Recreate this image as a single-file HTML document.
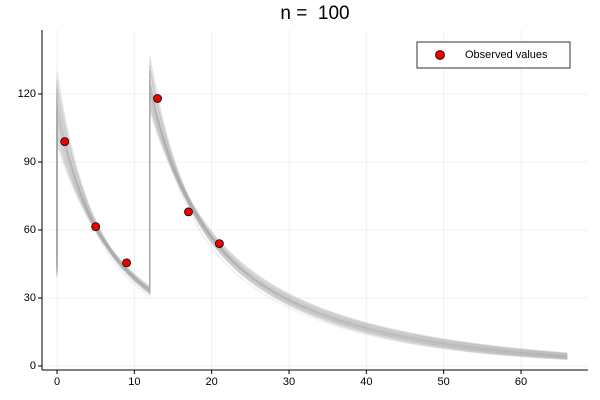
<!DOCTYPE html>
<html><head><meta charset="utf-8"><style>
body{margin:0;background:#fff}
svg{display:block;font-family:"Liberation Sans",sans-serif}
</style></head><body>
<svg id="chart" width="600" height="400" viewBox="0 0 600 400">
<text x="315" y="14" font-size="19" text-anchor="middle" dominant-baseline="middle" style="white-space:pre">n =  100</text>
<g id="grid"></g>
<g id="curves"></g>
<g id="points"></g>
<g id="axes"></g>
<g>
<rect x="417" y="42" width="153" height="26" fill="#fff" stroke="#000" stroke-width="0.8"/>
<circle cx="440" cy="55" r="4.5" fill="#e00" stroke="#000" stroke-width="0.8"/>
<text x="465" y="55" font-size="11" dominant-baseline="middle">Observed values</text>
</g>
</svg>
<script>
const xTicks=[0,10,20,30,40,50,60];
const yTicks=[0,30,60,90,120];
const obsT=[1,5,9,13,17,21];
const obsC=[99,61.5,45.5,118,68,54];
const doses=[112,106,120,100,114,127,109,103,117,111,123,98,115,108,121,105,113,130,102,118,110,101,124,107,116,119,104,112,99,126,108,115,111,122,103];
const kScale=[1.0,0.9,1.1,0.82,1.04,1.2,0.94,0.86,1.15,1.0,1.22,0.8,1.08,0.92,1.12,0.85,1.02,1.28,0.88,1.14,0.98,0.8,1.18,0.96,1.06,1.24,0.9,1.0,0.78,1.26,0.95,1.1,1.03,1.16,0.84];
const X0=57,XS=(521-57)/60,Y0=366,YS=(366-94)/120;
const sx=t=>X0+t*XS, sy=c=>Y0-c*YS;
const NS="http://www.w3.org/2000/svg";
function mk(tag,attrs,parent){const e=document.createElementNS(NS,tag);for(const k in attrs)e.setAttribute(k,attrs[k]);parent.appendChild(e);return e;}
const grid=document.getElementById('grid'),axes=document.getElementById('axes');
xTicks.forEach(t=>{
 const l=mk('line',{x1:sx(t),x2:sx(t),y1:30,y2:370,stroke:'#000','stroke-opacity':0.1,'stroke-width':0.5},grid);
 
 
 const tk=mk('line',{x1:sx(t),x2:sx(t),y1:370,y2:374,stroke:'#000'},axes);
 
 
 const tx=mk('text',{x:sx(t),y:382,'font-size':11,'text-anchor':'middle','dominant-baseline':'middle'},axes);
 tx.textContent=t;
 
 
});
yTicks.forEach(v=>{
 const l=mk('line',{x1:42,x2:588,y1:sy(v),y2:sy(v),stroke:'#000','stroke-opacity':0.1,'stroke-width':0.5},grid);
 
 
 const tk=mk('line',{x1:38,x2:42,y1:sy(v),y2:sy(v),stroke:'#000'},axes);
 
 
 const tx=mk('text',{x:36,y:sy(v),'font-size':11,'text-anchor':'end','dominant-baseline':'middle'},axes);
 tx.textContent=v;
 
 
});
const ax1=mk('line',{x1:42,x2:42,y1:30,y2:370,stroke:'#000'},axes);


const ax2=mk('line',{x1:42,x2:588,y1:370,y2:370,stroke:'#000'},axes);


const cg=document.getElementById('curves');
const g=(t,k)=>t<0?0:0.52*Math.exp(-0.21*k*t)+0.48*Math.exp(-0.052*(1+(k-1)*0.6)*t);
doses.forEach((D,i)=>{
 const k=kScale[i];
 let d='M'+sx(0)+','+sy(D*0.4);
 for(let t=0;t<=12;t+=0.5)d+='L'+sx(t).toFixed(1)+','+sy(D*g(t,k)).toFixed(1);
 for(let t=12;t<=66;t+=0.5)d+='L'+sx(t).toFixed(1)+','+sy(D*g(t,k)+0.8*D*g(t-12,k)).toFixed(1);
 const p=mk('path',{d:d,fill:'none',stroke:'#aaa','stroke-opacity':0.2,'stroke-width':1.4},cg);
 
 
});
const pg=document.getElementById('points');
obsT.forEach((t,i)=>{
 const c=mk('circle',{cx:sx(t),cy:sy(obsC[i]),r:4,fill:'#e00',stroke:'#000','stroke-width':0.8},pg);
 
 
});
</script>
</body></html>
